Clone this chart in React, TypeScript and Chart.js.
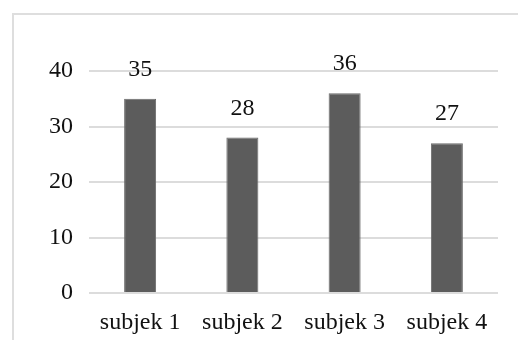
import React, { useEffect, useRef } from "react";
import { Chart, registerables } from "chart.js";

Chart.register(...registerables);

const categories = ["subjek 1", "subjek 2", "subjek 3", "subjek 4"];
const values = [35, 28, 36, 27];
const yTicks = [0, 10, 20, 30, 40];

const FONT = "'Liberation Serif', 'Times New Roman', serif";
const TEXT = "#111111";

const dataLabels = {
  id: "dataLabels",
  afterDatasetsDraw(chart: any) {
    const ctx = chart.ctx;
    const meta = chart.getDatasetMeta(0);
    ctx.save();
    ctx.font = `24px ${FONT}`;
    ctx.fillStyle = TEXT;
    ctx.textAlign = "center";
    ctx.textBaseline = "alphabetic";
    meta.data.forEach((bar: any, i: number) => {
      ctx.fillText(String(values[i]), bar.x, bar.y - 23);
    });
    ctx.restore();
  },
};

export default function App() {
  const ref = useRef<HTMLCanvasElement>(null);
  useEffect(() => {
    if (!ref.current) return;
    const chart = new Chart(ref.current, {
      type: "bar",
      data: {
        labels: categories,
        datasets: [
          {
            data: values,
            backgroundColor: "#5c5c5c",
            borderColor: "#6a6a6a",
            borderWidth: 1,
            barPercentage: 0.313,
            categoryPercentage: 1,
          },
        ],
      },
      options: {
        animation: false,
        responsive: false,
        maintainAspectRatio: false,
        layout: { padding: { top: 71, right: 20, left: 0, bottom: 0 } },
        plugins: { legend: { display: false }, tooltip: { enabled: false } },
        scales: {
          x: {
            grid: { display: false, drawTicks: false },
            border: { display: false },
            ticks: {
              color: TEXT,
              font: { family: FONT, size: 24 },
              padding: 15,
              maxRotation: 0,
            },
            afterFit(scale: any) {
              scale.height = 47;
            },
          },
          y: {
            min: 0,
            max: 40,
            afterBuildTicks(scale: any) {
              scale.ticks = yTicks.map((v) => ({ value: v }));
            },
            grid: { color: "#dcdcdc", lineWidth: 2, drawTicks: false },
            border: { display: false },
            ticks: {
              color: TEXT,
              font: { family: FONT, size: 24 },
              padding: 16,
            },
            afterFit(scale: any) {
              scale.width = 89;
            },
          },
        },
      },
      plugins: [dataLabels],
    });
    return () => chart.destroy();
  }, []);

  return (
    <div style={{ position: "fixed", left: 0, top: 0, width: 518, height: 340, background: "#fff", overflow: "hidden" }}>
      <div
        style={{
          position: "absolute",
          left: 12,
          top: 13,
          width: 520,
          height: 340,
          border: "2px solid #dedede",
        }}
      />
      <canvas ref={ref} width={518} height={340} style={{ position: "absolute", left: 0, top: 0 }} />
    </div>
  );
}
